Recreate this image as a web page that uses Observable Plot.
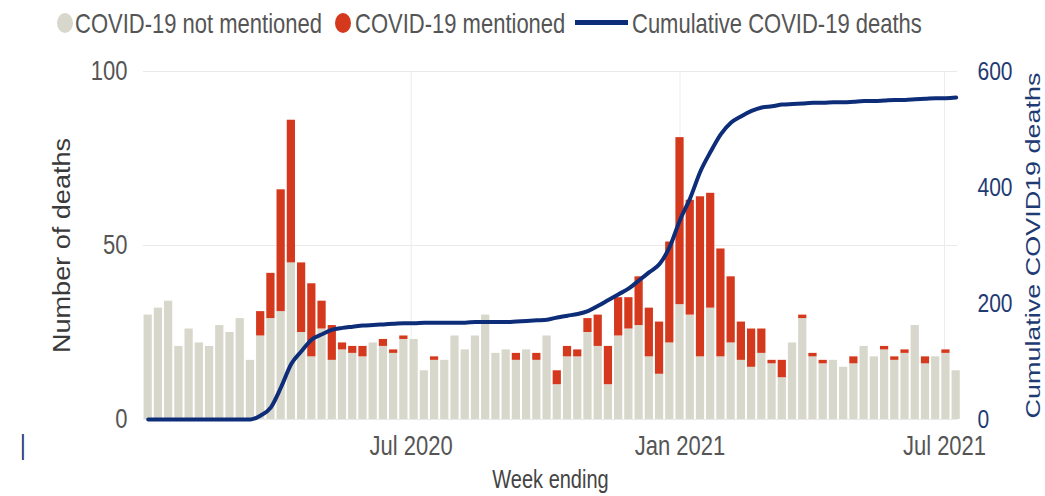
<!DOCTYPE html>
<html>
<head>
<meta charset="utf-8">
<script src="https://cdn.jsdelivr.net/npm/d3@7"></script>
<script src="https://cdn.jsdelivr.net/npm/@observablehq/plot@0.6"></script>
<style>
  html, body { margin: 0; padding: 0; background: #fff; }
  body { font-family: "Liberation Sans", Arial, sans-serif; }
  #wrap { position: relative; width: 1045px; height: 496px; overflow: hidden; }
  #legend { position: relative; width: 1045px; height: 45px; }
  .lt { position: absolute; top: 24px; font-size: 22px; color: #555; white-space: nowrap;
        transform: translateY(-50%) scaleY(1.25); transform-origin: left center; line-height: 1.15; }
  .dot { position: absolute; top: 13px; width: 16px; height: 20px; border-radius: 50%; }
  .sw { position: absolute; top: 20px; width: 53px; height: 5px; }
  #stray { position: absolute; left: 20px; top: 445px; font-size: 22px; color: #1f3b73;
           transform: translateY(-50%) scaleY(1.25); line-height: 1.15; }
</style>
</head>
<body>
<div id="wrap">
  <div id="legend"></div>
  <div id="chart"></div>
  <span id="stray">|</span>
</div>
<script>
// ---- data ----
const weekEnding = [
  "2020-01-03","2020-01-10","2020-01-17","2020-01-24","2020-01-31",
  "2020-02-07","2020-02-14","2020-02-21","2020-02-28",
  "2020-03-06","2020-03-13","2020-03-20","2020-03-27",
  "2020-04-03","2020-04-10","2020-04-17","2020-04-24",
  "2020-05-01","2020-05-08","2020-05-15","2020-05-22","2020-05-29",
  "2020-06-05","2020-06-12","2020-06-19","2020-06-26",
  "2020-07-03","2020-07-10","2020-07-17","2020-07-24","2020-07-31",
  "2020-08-07","2020-08-14","2020-08-21","2020-08-28",
  "2020-09-04","2020-09-11","2020-09-18","2020-09-25",
  "2020-10-02","2020-10-09","2020-10-16","2020-10-23","2020-10-30",
  "2020-11-06","2020-11-13","2020-11-20","2020-11-27",
  "2020-12-04","2020-12-11","2020-12-18","2020-12-25",
  "2021-01-01","2021-01-08","2021-01-15","2021-01-22","2021-01-29",
  "2021-02-05","2021-02-12","2021-02-19","2021-02-26",
  "2021-03-05","2021-03-12","2021-03-19","2021-03-26",
  "2021-04-02","2021-04-09","2021-04-16","2021-04-23","2021-04-30",
  "2021-05-07","2021-05-14","2021-05-21","2021-05-28",
  "2021-06-04","2021-06-11","2021-06-18","2021-06-25",
  "2021-07-02","2021-07-09"
];
const notMentioned = [
  30,32,34,21,26,22,21,27,25,29,
  17,24,29,31,45,25,18,26,17,20,
  19,18,22,21,19,23,23,14,17,17,
  24,20,24,30,19,20,17,20,17,24,
  10,18,18,25,21,10,24,26,27,18,
  13,22,33,30,18,32,18,22,17,15,
  19,16,12,22,29,18,16,17,15,16,
  21,18,20,17,19,27,16,18,19,14
];
const mentioned = [
  0,0,0,0,0,0,0,0,0,0,
  0,7,13,35,41,20,21,8,10,2,
  2,3,0,2,1,1,0,0,1,0,
  0,0,0,0,0,0,2,0,2,0,
  4,3,2,4,9,11,11,9,14,14,
  15,29,48,33,46,33,31,19,11,11,
  7,1,5,0,1,1,1,0,0,2,
  0,0,1,1,1,0,2,0,1,0
];
const cumulativeDeaths = [
  0,0,0,0,0,0,0,0,0,0,
  0,7,21,56,96,118,138,147,155,158,
  160,162,163,164,165,166,166,167,167,167,
  167,167,168,168,168,168,169,170,171,172,
  176,179,182,187,196,206,216,226,240,254,
  268,298,344,382,428,462,492,512,523,532,
  538,540,543,544,545,546,546,547,547,548,
  549,549,550,551,551,552,553,554,554,555
];
const xTickDates = ["2020-07-01","2021-01-01","2021-07-01"];
const xTickLabels = ["Jul 2020","Jan 2021","Jul 2021"];
const yLeftTicks = [0, 50, 100];
const yRightTicks = [0, 200, 400, 600];
const seriesNames = ["COVID-19 not mentioned", "COVID-19 mentioned", "Cumulative COVID-19 deaths"];
const xTitle = "Week ending";
const yTitleLeft = "Number of deaths";
const yTitleRight = "Cumulative COVID19 deaths";

// ---- styles ----
const GREY = "#d8d7cb", RED = "#d5391d", NAVY = "#0e2d78", NAVY_TEXT = "#1f3b73";

// ---- legend ----
const legend = document.getElementById("legend");
const legendLayout = [
  {kind: "dot", color: GREY, sw: 57, tx: 75},
  {kind: "dot", color: RED, sw: 335, tx: 355},
  {kind: "line", color: NAVY, sw: 575, tx: 632}
];
legendLayout.forEach((l, i) => {
  const s = document.createElement("span");
  s.className = l.kind === "dot" ? "dot" : "sw";
  s.style.left = l.sw + "px";
  s.style.background = l.color;
  legend.appendChild(s);
  const t = document.createElement("span");
  t.className = "lt";
  t.style.left = l.tx + "px";
  t.textContent = seriesNames[i];
  legend.appendChild(t);
});

// ---- chart ----
const parse = s => new Date(s + "T00:00:00Z");
const HALF = 3.5 * 24 * 3600 * 1000;
const rows = weekEnding.map((w, i) => ({
  date: parse(w),
  nm: notMentioned[i],
  m: mentioned[i],
  total: notMentioned[i] + mentioned[i],
  cum: cumulativeDeaths[i]
}));
const xTicks = xTickDates.map(parse);
const RATIO = yRightTicks[yRightTicks.length - 1] / yLeftTicks[yLeftTicks.length - 1];

const chart = Plot.plot({
  width: 1045,
  height: 451,
  marginTop: 26,
  marginBottom: 77,
  marginLeft: 143,
  marginRight: 88,
  style: {fontFamily: "'Liberation Sans', Arial, sans-serif", background: "white"},
  x: {type: "utc", domain: [new Date(Date.UTC(2019, 11, 30, 19)), new Date(Date.UTC(2021, 6, 9, 22))]},
  y: {domain: [0, 100]},
  marks: [
    Plot.gridY(yLeftTicks, {stroke: "#e9e9e9", strokeOpacity: 1}),
    Plot.gridX(xTicks, {stroke: "#ececec", strokeOpacity: 1}),
    Plot.rect(rows, {
      x1: d => new Date(+d.date - HALF), x2: d => new Date(+d.date + HALF),
      y1: 0, y2: "nm", fill: GREY, insetLeft: 1, insetRight: 1
    }),
    Plot.rect(rows.filter(d => d.m > 0), {
      x1: d => new Date(+d.date - HALF), x2: d => new Date(+d.date + HALF),
      y1: "nm", y2: "total", fill: RED, insetLeft: 1, insetRight: 1
    }),
    Plot.line(rows, {x: "date", y: d => d.cum / RATIO, stroke: NAVY, strokeWidth: 4, curve: "monotone-x"}),
    Plot.axisX(xTicks, {
      tickFormat: d => xTickLabels[xTicks.findIndex(t => +t === +d)],
      tickSize: 0, tickPadding: 16, fontSize: 22, color: "#555", label: null
    }),
    Plot.axisY(yLeftTicks, {anchor: "left", tickSize: 0, tickPadding: 16, fontSize: 22, color: "#555", label: null}),
    Plot.axisY(yRightTicks.map(v => v / RATIO), {
      anchor: "right", tickFormat: d => String(Math.round(d * RATIO)),
      tickSize: 0, tickPadding: 20, fontSize: 21, color: NAVY_TEXT, label: null
    }),
    Plot.text([yTitleLeft], {frameAnchor: "left", textAnchor: "middle", rotate: -90, dx: -81, fontSize: 23, fill: "#3a3a3a"}),
    Plot.text([yTitleRight], {frameAnchor: "right", textAnchor: "middle", rotate: -90, dx: 76, fontSize: 21, fill: NAVY_TEXT}),
    Plot.text([xTitle], {frameAnchor: "bottom", dy: 68, fontSize: 20, fill: "#444"})
  ]
});

// Reference text is vertically elongated: stretch glyphs to match.
chart.querySelectorAll("text").forEach(t => {
  const s = t.textContent;
  const tr = t.getAttribute("transform") || "";
  if (s === yTitleLeft) {
    t.setAttribute("textLength", 215); t.setAttribute("lengthAdjust", "spacingAndGlyphs");
  } else if (s === yTitleRight) {
    t.setAttribute("textLength", 346); t.setAttribute("lengthAdjust", "spacingAndGlyphs");
  } else if (tr.startsWith("translate") && !tr.includes("rotate")) {
    t.setAttribute("transform", tr + " scale(1,1.25)");
  }
});

document.getElementById("chart").appendChild(chart);
</script>
</body>
</html>
